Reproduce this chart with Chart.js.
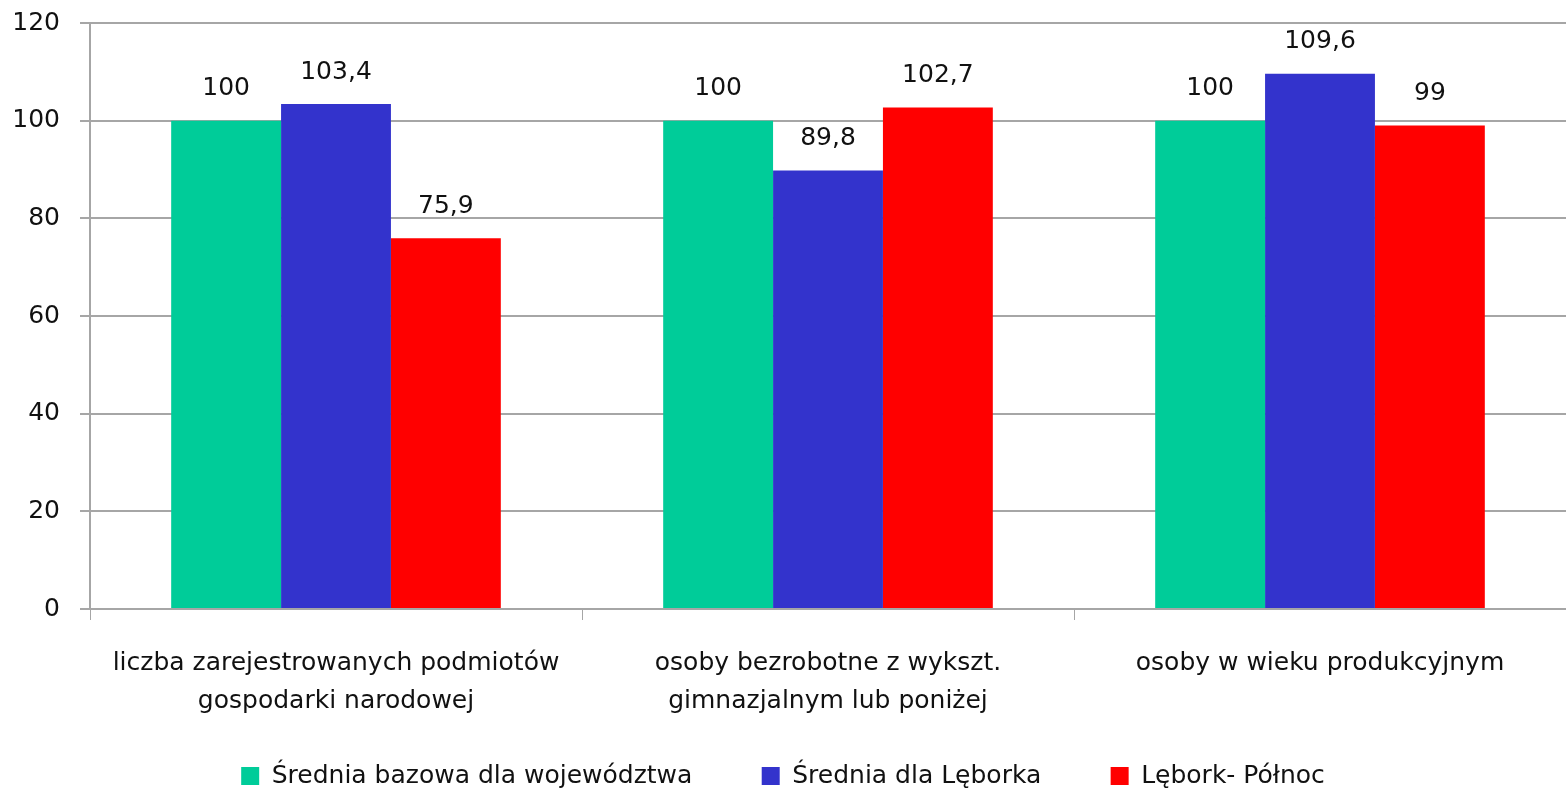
<!DOCTYPE html>
<html>
<head>
<meta charset="utf-8">
<script src="https://cdn.jsdelivr.net/npm/chart.js@4/dist/chart.umd.min.js"></script>
<style>
  html, body { margin: 0; padding: 0; background: #fff; }
  #wrap { width: 1566px; height: 791px; }
</style>
</head>
<body>
<div id="wrap"><canvas id="chart"></canvas></div>
<script>
// categories (two-line labels as in the source)
const categories = [
    ['liczba zarejestrowanych podmiotów', 'gospodarki narodowej'],
    ['osoby bezrobotne z wykszt.', 'gimnazjalnym lub poniżej'],
    ['osoby w wieku produkcyjnym']
];
const seriesNames = ['Średnia bazowa dla województwa', 'Średnia dla Lęborka', 'Lębork- Północ'];
const baseValues = [100, 100, 100];
const leborkValues = [103.4, 89.8, 109.6];
const polnocValues = [75.9, 102.7, 99];
const seriesColors = ['#00CC99', '#3333CC', '#FF0000'];
const yTicks = { min: 0, max: 120, step: 20 };

const FONT = 'DejaVu Sans';
const FSIZE = 25;
const GRID = '#a6a6a6';

// draws the value above each bar, positioned from the bar elements
const valueLabels = {
    id: 'valueLabels',
    afterDatasetsDraw(chart) {
        const ctx = chart.ctx;
        ctx.save();
        ctx.font = FSIZE + 'px "' + FONT + '"';
        ctx.fillStyle = '#111';
        ctx.textAlign = 'center';
        ctx.textBaseline = 'middle';
        chart.data.datasets.forEach((ds, i) => {
            chart.getDatasetMeta(i).data.forEach((bar, j) => {
                const txt = String(ds.data[j]).replace('.', ',');
                ctx.fillText(txt, bar.x, bar.y - 32);
            });
        });
        ctx.restore();
    }
};

const datasets = [baseValues, leborkValues, polnocValues].map((vals, i) => ({
    label: seriesNames[i],
    data: vals,
    backgroundColor: seriesColors[i],
    borderWidth: 0,
    categoryPercentage: 0.67,
    barPercentage: 1.0
}));

new Chart(document.getElementById('chart'), {
    type: 'bar',
    data: { labels: categories, datasets: datasets },
    plugins: [valueLabels],
    options: {
        responsive: true,
        maintainAspectRatio: false,
        animation: false,
        layout: { padding: { top: 0, right: 0, bottom: -7.5, left: 0 } },
        plugins: {
            tooltip: { enabled: false },
            legend: {
                position: 'bottom',
                labels: {
                    font: { family: FONT, size: FSIZE },
                    color: '#111',
                    boxWidth: 18,
                    boxHeight: 18,
                    padding: 45.5,
                    // a bit more room between the items, like the source legend
                    generateLabels(chart) {
                        const items = Chart.defaults.plugins.legend.labels.generateLabels(chart);
                        items.forEach((it, i) => {
                            if (i < items.length - 1) it.text += '   ';
                        });
                        return items;
                    }
                }
            }
        },
        scales: {
            x: {
                offset: true,
                afterFit(scale) { scale.height = 109; },
                grid: {
                    offset: true,
                    drawOnChartArea: false,
                    drawTicks: true,
                    tickLength: 11,
                    color: GRID
                },
                border: { display: true, color: GRID, width: 2 },
                ticks: {
                    font: { family: FONT, size: FSIZE, lineHeight: 1.5 },
                    color: '#111',
                    maxRotation: 0,
                    autoSkip: false,
                    padding: 25
                }
            },
            y: {
                min: yTicks.min,
                max: yTicks.max,
                afterFit(scale) { scale.width = 90; },
                grid: {
                    color: GRID,
                    lineWidth: 2,
                    tickLength: 10
                },
                border: { display: true, color: GRID, width: 2 },
                ticks: {
                    stepSize: yTicks.step,
                    font: { family: FONT, size: FSIZE, lineHeight: 0.24 },
                    color: '#111',
                    padding: 20
                }
            }
        }
    }
});
</script>
</body>
</html>
